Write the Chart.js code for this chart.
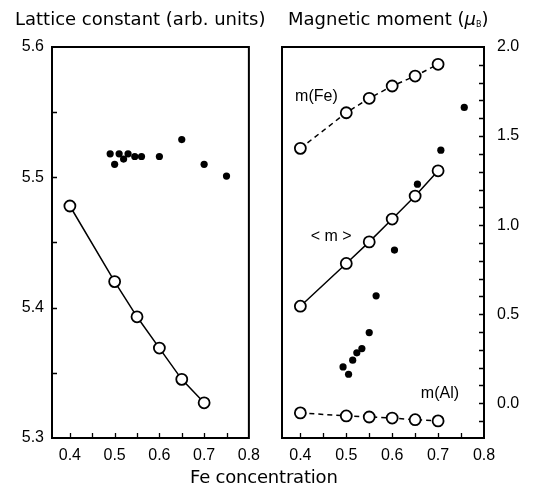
<!DOCTYPE html>
<html>
<head>
<meta charset="utf-8">
<script src="https://cdn.jsdelivr.net/npm/chart.js@4.4.1/dist/chart.umd.min.js"></script>
<style>
	body { margin: 0; background: #fff; width: 537px; height: 490px; position: relative; overflow: hidden; font-family: 'DejaVu Sans', sans-serif; }
	canvas { position: absolute; top: 0; }
	.t { position: absolute; font-size: 18px; line-height: 18px; color: #000; white-space: nowrap; }
	.t sub { font-size: 8px; vertical-align: -2px; }
</style>
</head>
<body>
<canvas id="latticeChart" width="268" height="490" style="left:0"></canvas>
<canvas id="momentChart" width="269" height="490" style="left:268px"></canvas>
<div class="t" style="left:15px;top:10px">Lattice constant (arb. units)</div>
<div class="t" style="left:288px;top:10px">Magnetic moment (<i>μ</i><sub>B</sub>)</div>
<div class="t" style="left:190px;top:468px;letter-spacing:-0.2px">Fe concentration</div>
<script>
// Fe concentration of the calculated points
var feConc = [0.4, 0.5, 0.55, 0.6, 0.65, 0.7];

// lattice constant: calculated (open) and measured (filled)
var latticeCalc = [5.478, 5.42, 5.393, 5.369, 5.345, 5.327];
var latticeExpX = [0.49, 0.50, 0.51, 0.52, 0.53, 0.545, 0.56, 0.60, 0.65, 0.70, 0.75];
var latticeExpY = [5.518, 5.510, 5.518, 5.514, 5.518, 5.516, 5.516, 5.516, 5.529, 5.510, 5.501];

// magnetic moments
var momentFe = [1.431, 1.631, 1.712, 1.781, 1.837, 1.903];
var momentAvg = [0.545, 0.785, 0.906, 1.034, 1.163, 1.305];
var momentAl = [-0.054, -0.071, -0.077, -0.083, -0.092, -0.099];
var momentExpX = [0.493, 0.505, 0.514, 0.523, 0.534, 0.55, 0.565, 0.605, 0.655, 0.706, 0.757];
var momentExpY = [0.204, 0.163, 0.242, 0.283, 0.307, 0.397, 0.603, 0.86, 1.23, 1.421, 1.661];

// tick labels and tick marks
var xLabels = [0.4, 0.5, 0.6, 0.7, 0.8];
var xMarks = [0.4, 0.45, 0.5, 0.55, 0.6, 0.65, 0.7, 0.75];
var latticeLabels = [5.3, 5.4, 5.5, 5.6];
var latticeMarks = [5.35, 5.4, 5.45, 5.5, 5.55];
var momentLabels = [0.0, 0.5, 1.0, 1.5, 2.0];
var momentMarks = [-0.1, 0, 0.1, 0.2, 0.3, 0.4, 0.5, 0.6, 0.7, 0.8, 0.9, 1.0, 1.1, 1.2, 1.3, 1.4, 1.5, 1.6, 1.7, 1.8, 1.9];

var pairs = function(xs, ys) {
	return xs.map(function(x, i) { return { x: x, y: ys[i] }; });
};

var openLine = function(ys, dash) {
	return {
		data: pairs(feConc, ys),
		showLine: true,
		borderColor: '#000',
		borderWidth: 1.5,
		borderDash: dash,
		pointRadius: 5.5,
		pointBackgroundColor: '#fff',
		pointBorderColor: '#000',
		pointBorderWidth: 1.8
	};
};

var dots = function(xs, ys) {
	return {
		data: pairs(xs, ys),
		showLine: false,
		pointRadius: 3.6,
		pointBackgroundColor: '#000',
		pointBorderWidth: 0
	};
};

// frame, inward tick marks and text notes
var boxPlugin = {
	id: 'box',
	afterDraw: function(chart, args, opts) {
		var ctx = chart.ctx, a = chart.chartArea, sx = chart.scales.x, sy = chart.scales.y;
		ctx.save();
		ctx.strokeStyle = '#000';
		ctx.lineWidth = 2;
		ctx.strokeRect(a.left, a.top, a.right - a.left, a.bottom - a.top);
		ctx.lineWidth = 1.3;
		ctx.beginPath();
		xMarks.forEach(function(v) {
			var px = Math.round(sx.getPixelForValue(v)) + 0.5;
			ctx.moveTo(px, a.bottom);
			ctx.lineTo(px, a.bottom - 5);
		});
		opts.yMarks.forEach(function(v) {
			var py = Math.round(sy.getPixelForValue(v)) + 0.5;
			var x0 = opts.side === 'left' ? a.left : a.right;
			ctx.moveTo(x0, py);
			ctx.lineTo(x0 + (opts.side === 'left' ? 5 : -5), py);
		});
		ctx.stroke();
		ctx.fillStyle = '#000';
		ctx.font = "16px 'Liberation Sans', Arial, sans-serif";
		ctx.textAlign = 'center';
		ctx.textBaseline = 'middle';
		(opts.notes || []).forEach(function(n) {
			ctx.fillText(n.text, sx.getPixelForValue(n.x), sy.getPixelForValue(n.y));
		});
		ctx.restore();
	}
};

var xScale = function() {
	return {
		type: 'linear',
		min: 0.36,
		max: 0.8,
		afterBuildTicks: function(s) { s.ticks = xLabels.map(function(v) { return { value: v }; }); },
		afterFit: function(s) { s.height = 52; },
		ticks: { padding: 8, autoSkip: false, maxRotation: 0, callback: function(v) { return v.toFixed(1); } },
		grid: { display: false, drawTicks: false },
		border: { display: false }
	};
};

var handleRenderCharts = function() {
	Chart.defaults.font.family = "'Liberation Sans', Arial, sans-serif";
	Chart.defaults.font.size = 16;
	Chart.defaults.color = '#000';
	Chart.defaults.plugins.legend.display = false;
	Chart.defaults.plugins.tooltip.enabled = false;
	Chart.defaults.animation = false;

	new Chart(document.getElementById('latticeChart'), {
		type: 'scatter',
		data: {
			datasets: [openLine(latticeCalc, []), dots(latticeExpX, latticeExpY)]
		},
		options: {
			responsive: false,
			events: [],
			layout: { padding: { left: 0, top: 47, right: 13, bottom: 0 } },
			scales: {
				x: xScale(),
				y: {
					type: 'linear',
					min: 5.3,
					max: 5.6,
					afterBuildTicks: function(s) { s.ticks = latticeLabels.map(function(v) { return { value: v }; }); },
					afterFit: function(s) { s.width = 52; },
					ticks: { padding: 8, autoSkip: false, callback: function(v) { return v.toFixed(1); } },
					grid: { display: false, drawTicks: false },
					border: { display: false }
				}
			},
			plugins: { box: { side: 'left', yMarks: latticeMarks } }
		},
		plugins: [boxPlugin]
	});

	new Chart(document.getElementById('momentChart'), {
		type: 'scatter',
		data: {
			datasets: [
				openLine(momentFe, [5, 4]),
				openLine(momentAvg, []),
				openLine(momentAl, [5, 4]),
				dots(momentExpX, momentExpY)
			]
		},
		options: {
			responsive: false,
			events: [],
			layout: { padding: { left: 14, top: 47, right: 0, bottom: 0 } },
			scales: {
				x: xScale(),
				y: {
					type: 'linear',
					position: 'right',
					min: -0.195,
					max: 2.0,
					afterBuildTicks: function(s) { s.ticks = momentLabels.map(function(v) { return { value: v }; }); },
					afterFit: function(s) { s.width = 53; },
					ticks: { padding: 13, autoSkip: false, callback: function(v) { return v.toFixed(1); } },
					grid: { display: false, drawTicks: false },
					border: { display: false }
				}
			},
			plugins: {
				box: {
					side: 'right',
					yMarks: momentMarks,
					notes: [
						{ text: 'm(Fe)', x: 0.435, y: 1.72 },
						{ text: '< m >', x: 0.467, y: 0.933 },
						{ text: 'm(Al)', x: 0.704, y: 0.056 }
					]
				}
			}
		},
		plugins: [boxPlugin]
	});
};

handleRenderCharts();
</script>
</body>
</html>
